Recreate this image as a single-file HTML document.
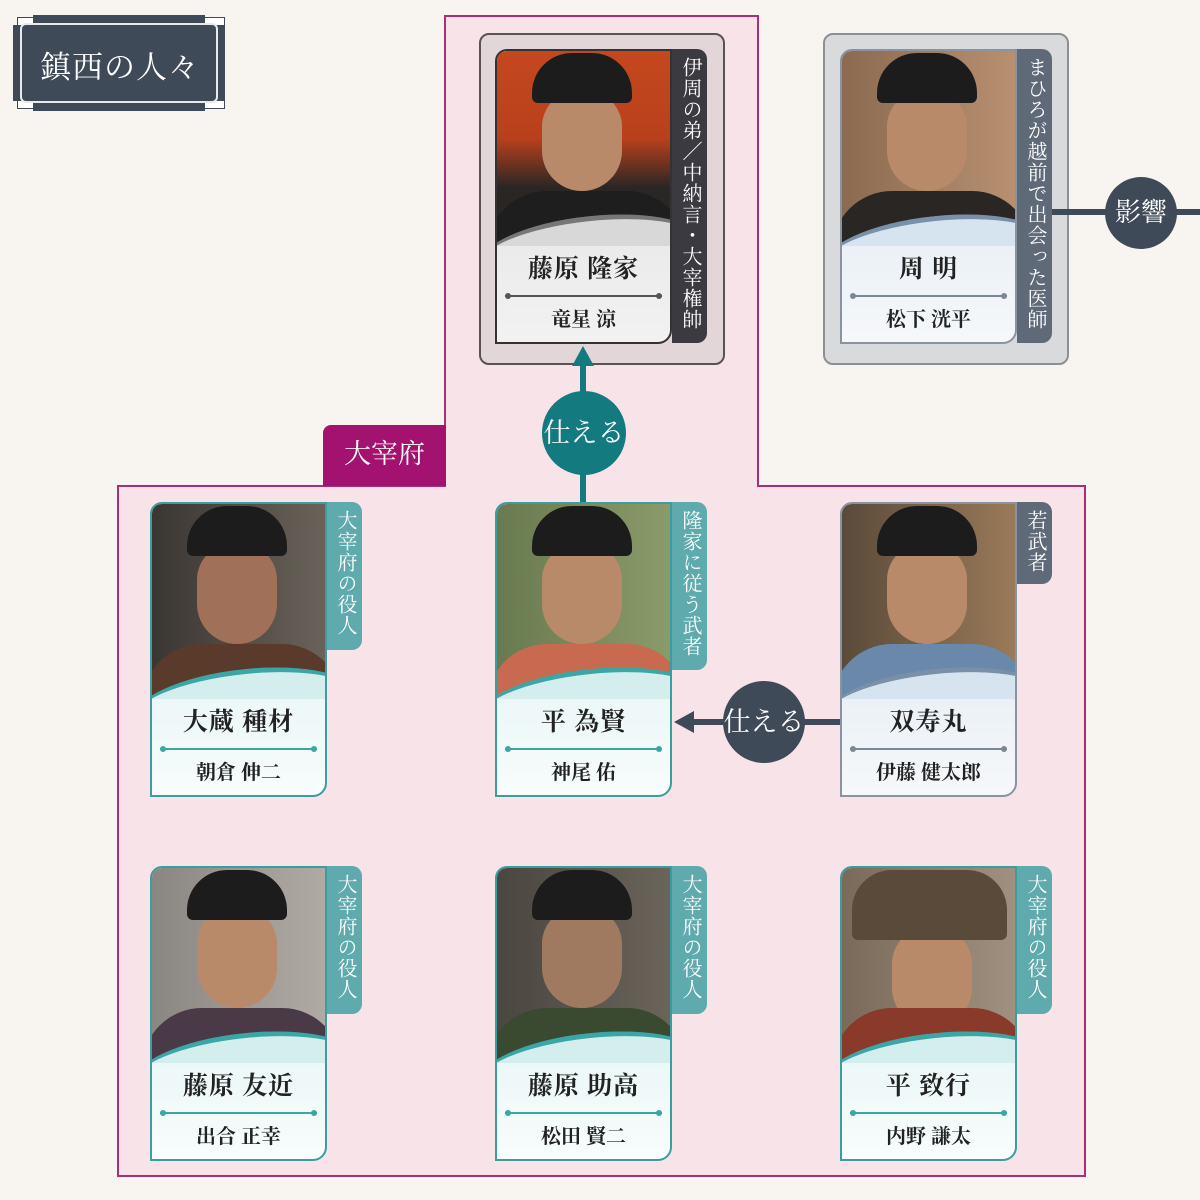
<!DOCTYPE html>
<html><head><meta charset="utf-8"><style>
*{margin:0;padding:0;box-sizing:border-box}
body{width:1200px;height:1200px;position:relative;overflow:hidden;background:#f8f5f1;font-family:"Liberation Serif","Noto Serif CJK SC","Noto Sans CJK JP",serif}
.a{position:absolute}
.pink{background:#f8e4e8;border:2px solid #a8307a}
.card{position:absolute;width:177px;height:295px;border-radius:12px 0 14px 0;overflow:hidden;border:2px solid #3a9ea0;background:#fff}
.photo{position:absolute;left:0;top:0;width:100%;height:195px;overflow:hidden}
.hat{position:absolute;left:35px;top:2px;width:100px;height:50px;background:#1c1c1c;border-radius:40px 40px 6px 6px}
.face{position:absolute;left:45px;top:40px;width:80px;height:100px;background:#b88a6a;border-radius:40px 40px 45px 45px}
.body{position:absolute;left:-10px;top:140px;width:200px;height:80px;border-radius:60px 60px 0 0}
.wave{position:absolute;left:-20px;top:165px;width:230px;height:80px;border-radius:50%/40px;transform:rotate(-6deg)}
.nm{position:absolute;left:0;top:198px;width:100%;text-align:center;font-size:25px;color:#222;font-weight:bold;letter-spacing:1px}
.ln{position:absolute;left:8px;right:8px;top:244px;height:2px}
.ln:before,.ln:after{content:"";position:absolute;top:-2px;width:6px;height:6px;border-radius:50%;background:inherit}
.ln:before{left:0}.ln:after{right:0}
.ac{position:absolute;left:0;top:252px;width:100%;text-align:center;font-size:20px;color:#222;font-weight:bold}
.tag{position:absolute;width:35px;border-radius:0 10px 10px 0;color:#fff;font-size:20px;writing-mode:vertical-rl;text-align:left;padding-top:8px;line-height:35px;letter-spacing:1px}
.circ{position:absolute;border-radius:50%;color:#fff;font-size:27px;text-align:center}
</style></head><body>

<div class="a" style="left:17px;top:17px;width:208px;height:92px;background:#fff;border:1px solid #3f4a58"></div>
<div class="a" style="left:33px;top:15px;width:172px;height:96px;background:#3f4a58"></div>
<div class="a" style="left:13px;top:25px;width:212px;height:76px;background:#3f4a58"></div>
<div class="a" style="left:20px;top:23px;width:198px;height:80px;border:2px solid #e8eaec;border-radius:6px"></div>
<div class="a" style="left:20px;top:42px;width:200px;text-align:center;color:#fff;font-size:31px;letter-spacing:1px">鎮西の人々</div>

<div class="a pink" style="left:444px;top:15px;width:315px;height:480px;border-bottom:none"></div>
<div class="a pink" style="left:117px;top:485px;width:969px;height:692px"></div>
<div class="a" style="left:446px;top:483px;width:311px;height:6px;background:#f8e4e8"></div>
<div class="a" style="left:323px;top:425px;width:123px;height:61px;background:#a3126e;color:#fff;font-size:27px;text-align:center;line-height:58px;border-radius:8px 0 0 0">大宰府</div>

<div class="a" style="left:479px;top:33px;width:246px;height:332px;background:#e3d6d8;border:2px solid #5a5254;border-radius:10px"></div>
<div class="a" style="left:823px;top:33px;width:246px;height:332px;background:#d8dadc;border:2px solid #8a9096;border-radius:10px"></div>

<div class="a" style="left:580px;top:360px;width:6px;height:145px;background:#137a80"></div>
<div class="a" style="left:572px;top:346px;width:0;height:0;border-left:11px solid transparent;border-right:11px solid transparent;border-bottom:20px solid #137a80"></div>
<div class="circ" style="left:542px;top:391px;width:84px;height:84px;background:#137a80;line-height:84px">仕える</div>

<div class="a" style="left:690px;top:719px;width:150px;height:6px;background:#3f4a58"></div>
<div class="a" style="left:674px;top:711px;width:0;height:0;border-top:11px solid transparent;border-bottom:11px solid transparent;border-right:20px solid #3f4a58"></div>
<div class="circ" style="left:723px;top:681px;width:82px;height:82px;background:#3f4a58;line-height:82px">仕える</div>

<div class="a" style="left:1052px;top:209px;width:148px;height:6px;background:#3f4a58"></div>
<div class="circ" style="left:1105px;top:177px;width:72px;height:72px;background:#3f4a58;line-height:72px;font-size:26px">影響</div>

<div class="tag" style="left:672px;top:49px;height:294px;background:#3a3a40">伊周の弟／中納言・大宰権帥</div>
<div class="card" style="left:495px;top:49px;border-color:#333;background:linear-gradient(#dcdcdc,#f2f2f2)">
 <div class="photo" style="background:linear-gradient(#c4481e 0,#b8401c 45%,#2a2624 70%)">
  <div class="face"></div><div class="hat"></div><div class="body" style="background:#1e1e1e"></div>
  <div class="wave" style="background:#d8d8d8;border-top:5px solid #777"></div></div>
 <div class="nm">藤原 隆家</div><div class="ln" style="background:#555"></div><div class="ac">竜星 涼</div>
</div>

<div class="tag" style="left:1017px;top:49px;height:294px;background:#5e6a78">まひろが越前で出会った医師</div>
<div class="card" style="left:840px;top:49px;border-color:#8a94a0;background:linear-gradient(#d4e2ee,#f6f8fa)">
 <div class="photo" style="background:linear-gradient(90deg,#8a6a50,#b89070)">
  <div class="face"></div><div class="hat"></div><div class="body" style="background:#2a2624"></div>
  <div class="wave" style="background:#d6e4f0;border-top:5px solid #7a90a8"></div></div>
 <div class="nm">周 明</div><div class="ln" style="background:#7a8894"></div><div class="ac">松下 洸平</div>
</div>

<div class="tag" style="left:327px;top:502px;height:148px;background:#5faaac">大宰府の役人</div>
<div class="card" style="left:150px;top:502px;background:linear-gradient(#d4eeee,#f8fcfc)">
 <div class="photo" style="background:linear-gradient(90deg,#3a3632,#6a625a)">
  <div class="face" style="background:#a07058"></div><div class="hat"></div><div class="body" style="background:#5a3a2a"></div>
  <div class="wave" style="background:#d4eeee;border-top:5px solid #3aa6a6"></div></div>
 <div class="nm">大蔵 種材</div><div class="ln" style="background:#3aa6a6"></div><div class="ac">朝倉 伸二</div>
</div>

<div class="tag" style="left:672px;top:502px;height:168px;background:#5faaac">隆家に従う武者</div>
<div class="card" style="left:495px;top:502px;background:linear-gradient(#d4eeee,#f8fcfc)">
 <div class="photo" style="background:linear-gradient(90deg,#6a7a50,#8a9a6a)">
  <div class="face"></div><div class="hat"></div><div class="body" style="background:#c86a50"></div>
  <div class="wave" style="background:#d4eeee;border-top:5px solid #3aa6a6"></div></div>
 <div class="nm">平 為賢</div><div class="ln" style="background:#3aa6a6"></div><div class="ac">神尾 佑</div>
</div>

<div class="tag" style="left:1017px;top:502px;height:82px;background:#5e6a78">若武者</div>
<div class="card" style="left:840px;top:502px;border-color:#8a94a0;background:linear-gradient(#d4e2ee,#f6f8fa)">
 <div class="photo" style="background:linear-gradient(90deg,#5a4a3a,#9a7a5a)">
  <div class="face"></div><div class="hat"></div><div class="body" style="background:#6a88aa"></div>
  <div class="wave" style="background:#d6e4f0;border-top:5px solid #7a90a8"></div></div>
 <div class="nm">双寿丸</div><div class="ln" style="background:#7a8894"></div><div class="ac">伊藤 健太郎</div>
</div>

<div class="tag" style="left:327px;top:866px;height:148px;background:#5faaac">大宰府の役人</div>
<div class="card" style="left:150px;top:866px;background:linear-gradient(#d4eeee,#f8fcfc)">
 <div class="photo" style="background:linear-gradient(90deg,#8a8682,#b0aaa4)">
  <div class="face"></div><div class="hat"></div><div class="body" style="background:#4a3a48"></div>
  <div class="wave" style="background:#d4eeee;border-top:5px solid #3aa6a6"></div></div>
 <div class="nm">藤原 友近</div><div class="ln" style="background:#3aa6a6"></div><div class="ac">出合 正幸</div>
</div>

<div class="tag" style="left:672px;top:866px;height:148px;background:#5faaac">大宰府の役人</div>
<div class="card" style="left:495px;top:866px;background:linear-gradient(#d4eeee,#f8fcfc)">
 <div class="photo" style="background:linear-gradient(90deg,#4a4640,#6a645a)">
  <div class="face" style="background:#a07a60"></div><div class="hat"></div><div class="body" style="background:#3a4a30"></div>
  <div class="wave" style="background:#d4eeee;border-top:5px solid #3aa6a6"></div></div>
 <div class="nm">藤原 助高</div><div class="ln" style="background:#3aa6a6"></div><div class="ac">松田 賢二</div>
</div>

<div class="tag" style="left:1017px;top:866px;height:148px;background:#5faaac">大宰府の役人</div>
<div class="card" style="left:840px;top:866px;background:linear-gradient(#d4eeee,#f8fcfc)">
 <div class="photo" style="background:linear-gradient(90deg,#7a6a5a,#a09080)">
  <div class="face" style="left:50px;top:60px"></div><div class="hat" style="left:10px;width:155px;height:70px;background:#5a4a3a"></div><div class="body" style="background:#8a3a2a"></div>
  <div class="wave" style="background:#d4eeee;border-top:5px solid #3aa6a6"></div></div>
 <div class="nm">平 致行</div><div class="ln" style="background:#3aa6a6"></div><div class="ac">内野 謙太</div>
</div>

</body></html>
